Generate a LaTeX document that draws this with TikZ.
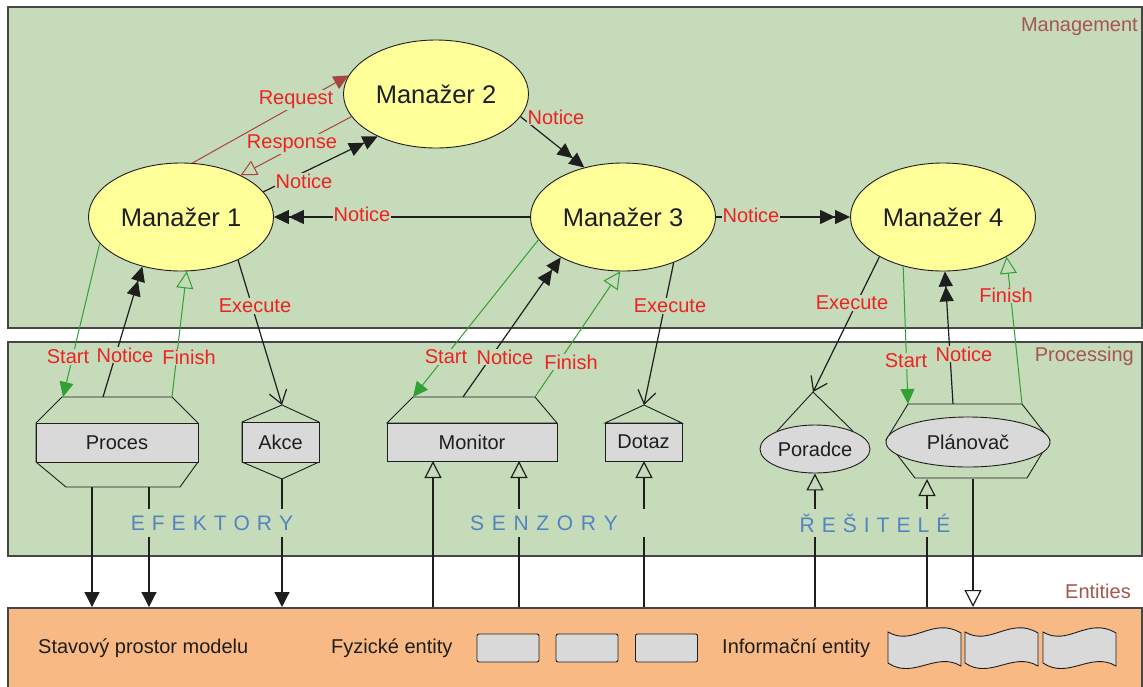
\documentclass[tikz,border=0pt]{standalone}
\usepackage{fontspec}
\setmainfont{Liberation Sans}
\usetikzlibrary{arrows.meta,shapes.geometric}

\definecolor{layergreen}{RGB}{197,219,185}
\definecolor{layerorange}{RGB}{248,185,132}
\definecolor{mgryellow}{RGB}{255,255,153}
\definecolor{shapegray}{RGB}{217,217,217}
\definecolor{lblred}{RGB}{238,34,34}
\definecolor{layertxt}{RGB}{166,85,80}
\definecolor{groupblue}{RGB}{83,132,191}
\definecolor{flowgreen}{RGB}{51,160,51}
\definecolor{reqbrown}{RGB}{168,69,60}
\definecolor{framegray}{RGB}{70,70,70}
\definecolor{inkdark}{RGB}{30,30,30}

\tikzset{
  layer/.style={draw=framegray, line width=2pt, inner sep=0pt},
  manager/.style={ellipse, draw=inkdark, line width=0.9pt, fill=mgryellow,
    minimum width=185pt, minimum height=108pt, inner sep=0pt,
    font=\fontsize{25.5}{30}\selectfont, text=inkdark},
  unitbox/.style={draw=inkdark, line width=0.9pt, fill=shapegray, inner sep=0pt,
    font=\fontsize{20}{24}\selectfont, text=inkdark},
  unitoval/.style={unitbox, ellipse},
  frame/.style={draw=inkdark, line width=0.9pt},
  lbl/.style={text=lblred, fill=layergreen, inner sep=1pt,
    font=\fontsize{20}{24}\selectfont},
  tier/.style={text=layertxt, anchor=east, inner sep=0pt,
    font=\fontsize{20}{24}\selectfont},
  group/.style={text=groupblue, fill=layergreen, inner xsep=6pt, inner ysep=0pt,
    minimum height=28pt, font=\fontsize{21}{24}\selectfont},
  plain/.style={text=inkdark, inner sep=0pt, font=\fontsize{20}{24}\selectfont},
  entbox/.style={draw=inkdark, line width=0.9pt, fill=shapegray, rounded corners=2pt,
    minimum width=62pt, minimum height=28pt, inner sep=0pt},
  conn/.style={line width=1.2pt, draw=inkdark},
  notice/.style={conn, -{Triangle[length=15pt,width=14pt]Triangle[length=15pt,width=14pt]}},
  startflow/.style={line width=1pt, draw=flowgreen, -{Triangle[length=15pt,width=14pt,fill=flowgreen]}},
  finishflow/.style={line width=1pt, draw=flowgreen, -{Triangle[open,length=17pt,width=17pt]}},
  execute/.style={conn, -{Straight Barb[length=13pt,width=18pt]}},
  request/.style={line width=1pt, draw=reqbrown, -{Triangle[length=15pt,width=14pt,fill=reqbrown]}},
  response/.style={line width=1pt, draw=reqbrown, -{Triangle[open,length=16pt,width=16pt]}},
  effect/.style={conn, -{Triangle[length=15pt,width=15pt]}},
  sense/.style={conn, -{Triangle[open,length=17pt,width=17pt]}},
}

\begin{document}
\begin{tikzpicture}[x=1pt, y=-1pt]
\useasboundingbox (0,0) rectangle (1143,686);
\fill[white] (0,0) rectangle (1143,686);

% layers
\node[layer, fill=layergreen, minimum width=1134pt, minimum height=321pt] (mgmt) at (575,167.5) {};
\node[layer, fill=layergreen, minimum width=1134pt, minimum height=214pt] (proc-layer) at (575,449) {};
\node[layer, fill=layerorange, minimum width=1134pt, minimum height=100pt] (ent) at (575,658) {};

\node[tier] (t-mgmt) at (1138,27) {Management};
\node[tier] (t-proc) at (1134,356) {Processing};
\node[tier] (t-ent) at (1131,591) {Entities};

% managers
\node[manager] (m1) at (181,217) {Manažer 1};
\node[manager] (m2) at (436,94) {Manažer 2};
\node[manager] (m3) at (623,217) {Manažer 3};
\node[manager] (m4) at (943,217) {Manažer 4};

% processing units
\draw[frame] (62,397) -- (172,397) -- (198,423) -- (198,462) -- (180,487) -- (66,487) -- (36,462) -- (36,423) -- cycle;
\node[unitbox, minimum width=162pt, minimum height=39pt] (proces) at (117,442.5) {Proces};
\coordinate (proc-start) at (63,397);
\coordinate (proc-notice) at (103,397);
\coordinate (proc-finish) at (172,397);
\coordinate (proc-out1) at (92,487);
\coordinate (proc-out2) at (149,487);

\draw[frame] (282,405) -- (319,422) -- (319,462) -- (282,479) -- (242,462) -- (242,422) -- cycle;
\node[unitbox, minimum width=77pt, minimum height=40pt] (akce) at (280.5,442) {Akce};
\coordinate (akce-in) at (282,405);
\coordinate (akce-out) at (282,479);

\draw[frame] (413,397) -- (535,397) -- (557,423) -- (387,423) -- cycle;
\node[unitbox, minimum width=170pt, minimum height=38pt] (monitor) at (472,442) {Monitor};
\coordinate (mon-start) at (413,397);
\coordinate (mon-notice) at (463,397);
\coordinate (mon-finish) at (535,397);
\coordinate (mon-in1) at (433,461);
\coordinate (mon-in2) at (519,461);

\draw[frame] (644,405) -- (682,423) -- (605,423) -- cycle;
\node[unitbox, minimum width=77pt, minimum height=38pt] (dotaz) at (643.5,442) {Dotaz};
\coordinate (dot-in) at (644,405);
\coordinate (dot-data) at (644,461);

\coordinate (por-in) at (813,392);
\node[unitoval, minimum width=110pt, minimum height=48pt] (poradce) at (815,449) {Poradce};
\draw[frame] (poradce.155) -- (por-in) -- (poradce.25);

\draw[frame] (908,404) -- (1022,404) -- (1050,440) -- (1027,478) -- (915,478) -- (886,440) -- cycle;
\node[unitoval, minimum width=164pt, minimum height=50pt] (planovac) at (968,442) {Plánovač};
\coordinate (plan-start) at (908,404);
\coordinate (plan-notice) at (953,404);
\coordinate (plan-finish) at (1022,404);
\coordinate (plan-in) at (927,479);
\coordinate (plan-out) at (973,479);

% manager to manager
\draw[request] (m1.78) -- (m2.168);
\draw[response] (m2.-165) -- (m1.35);
\draw[notice] (m1.17) -- (m2.-144);
\draw[notice] (m3.180) -- (m1.0);
\draw[notice] (m2.-15) -- (m3.128);
\draw[notice] (m3.0) -- (m4.180);

% manager to units
\draw[startflow] (m1.-162) -- (proc-start);
\draw[notice] (proc-notice) -- (m1.-128);
\draw[finishflow] (proc-finish) -- (m1.-84);
\draw[execute] (m1.-37) -- (akce-in);

\draw[startflow] (m3.-165) -- (mon-start);
\draw[notice] (mon-notice) -- (m3.-147);
\draw[finishflow] (mon-finish) -- (m3.-93);
\draw[execute] (m3.-42) -- (dot-in);

\draw[execute] (m4.-148) -- (por-in);
\draw[startflow] (m4.-129) -- (plan-start);
\draw[notice] (plan-notice) -- (m4.-88);
\draw[finishflow] (plan-finish) -- (m4.-32);

% units to entities
\draw[effect] (proc-out1) -- (proc-out1 |- ent.north);
\draw[effect] (proc-out2) -- (proc-out2 |- ent.north);
\draw[effect] (akce-out) -- (akce-out |- ent.north);
\draw[sense] (mon-in1 |- ent.north) -- (mon-in1);
\draw[sense] (mon-in2 |- ent.north) -- (mon-in2);
\draw[sense] (dot-data |- ent.north) -- (dot-data);
\draw[sense] (poradce.south |- ent.north) -- (poradce.south);
\draw[sense] (plan-in |- ent.north) -- (plan-in);
\draw[sense] (plan-out) -- (plan-out |- ent.north);

% connector labels
\node[lbl] (l-req) at (296,100) {Request};
\node[lbl] (l-resp) at (292,144) {Response};
\node[lbl] (l-n12) at (304,181) {Notice};
\node[lbl] (l-n31) at (362,214) {Notice};
\node[lbl] (l-n23) at (556,117) {Notice};
\node[lbl] (l-n34) at (751,215) {Notice};
\node[lbl] (l-ex1) at (255,306) {Execute};
\node[lbl] (l-ex3) at (670,306) {Execute};
\node[lbl] (l-ex4) at (852,303) {Execute};
\node[lbl] (l-fin4) at (1006,295) {Finish};
\node[lbl] (l-st1) at (68,357) {Start};
\node[lbl] (l-no1) at (125,355) {Notice};
\node[lbl] (l-fi1) at (189,357) {Finish};
\node[lbl] (l-st3) at (446,357) {Start};
\node[lbl] (l-no3) at (505,357) {Notice};
\node[lbl] (l-fi3) at (571,362) {Finish};
\node[lbl] (l-st4) at (906,361) {Start};
\node[lbl] (l-no4) at (964,354) {Notice};

% group captions
\node[group] (g-eff) at (212,523) {E\kern7pt F\kern7pt E\kern7pt K\kern7pt T\kern7pt O\kern7pt R\kern7pt Y};
\node[group, inner xsep=28pt] (g-sen) at (544,523) {S\kern7.7pt E\kern7.7pt N\kern7.7pt Z\kern7.7pt O\kern7.7pt R\kern7.7pt Y};
\node[group] (g-res) at (875,523) {Ř\kern7pt E\kern7pt Š\kern7pt I\kern7pt T\kern7pt E\kern7pt L\kern7pt É};

% entities
\node[plain, anchor=west] (e-state) at (38,648) {Stavový prostor modelu};
\node[plain, anchor=west] (e-phys) at (331,648) {Fyzické entity};
\node[entbox] (pe1) at (508,648) {};
\node[entbox] (pe2) at (587,648) {};
\node[entbox] (pe3) at (666.5,648) {};
\node[plain, anchor=west] (e-info) at (722,648) {Informační entity};
\foreach \x in {888,965,1043} {
  \draw[draw=inkdark, line width=0.9pt, fill=shapegray]
    (\x,632) .. controls (\x+25,647) and (\x+45,616) .. (\x+73,633)
    -- (\x+73,666) .. controls (\x+48,651) and (\x+25,680) .. (\x,663) -- cycle;
}
\end{tikzpicture}
\end{document}
